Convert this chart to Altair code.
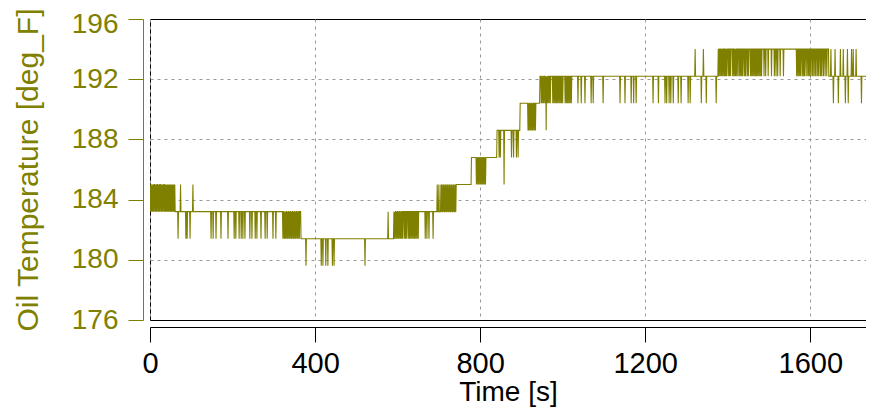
import altair as alt
import pandas as pd

# ---- data (time in s, temperature in deg_F) ----
# base level runs: start time and level held from that time on
run_start = [0, 62, 366, 591, 742, 779, 841, 897, 945, 1377, 1645]
run_level = [185.0, 183.2, 181.4, 183.2, 185.0, 186.8, 188.6, 190.4, 192.2, 194.0, 192.2]

# short excursions (one sample) away from the base level, grouped by level
spikes_179_6 = [378, 415, 419, 426, 431, 442, 446, 521]
spikes_181_4 = [68, 87, 90, 97, 148, 153, 160, 172, 189, 204, 208, 216, 221, 225,
                230, 242, 247, 255, 259, 269, 279, 284, 298, 305, 322, 325, 327,
                329, 332, 334, 337, 339, 342, 344, 347, 349, 352, 354, 357, 359,
                362, 592, 594, 597, 599, 602, 604, 607, 609, 612, 616, 619, 622,
                626, 629, 632, 635, 638, 641, 644, 647, 650, 667, 671, 676, 686]
spikes_183_2 = [1, 3, 5, 7, 9, 12, 14, 16, 19, 21, 23, 26, 28, 30, 32, 35, 37, 39,
                41, 43, 45, 47, 49, 51, 53, 55, 57, 59, 61, 577]
spikes_185_0 = [74, 104, 696, 700, 705, 707, 710, 712, 715, 717, 720, 722, 725,
                727, 730, 732, 735, 737, 740, 791, 793, 796, 798, 801, 803, 806,
                808, 811, 813, 858]
spikes_186_8 = [846, 849, 876, 881, 888, 892]
spikes_188_6 = [916, 918, 921, 923, 926, 928, 931, 934, 960]
spikes_190_4 = [948, 950, 953, 955, 958, 962, 964, 967, 970, 976, 979, 982, 985,
                988, 991, 994, 997, 1000, 1006, 1009, 1012, 1015, 1018, 1021,
                1037, 1045, 1054, 1069, 1074, 1098, 1139, 1151, 1166, 1172, 1178,
                1219, 1232, 1248, 1252, 1258, 1262, 1268, 1280, 1287, 1304, 1309,
                1336, 1348, 1372, 1656, 1668, 1685, 1692, 1724]
spikes_192_2 = [1378, 1381, 1384, 1386, 1389, 1392, 1395, 1397, 1401, 1404, 1407,
                1412, 1415, 1418, 1420, 1423, 1427, 1430, 1433, 1436, 1440, 1443,
                1447, 1450, 1455, 1458, 1461, 1464, 1467, 1470, 1473, 1476, 1479,
                1482, 1488, 1492, 1498, 1506, 1513, 1517, 1521, 1527, 1535, 1567,
                1570, 1573, 1576, 1580, 1583, 1586, 1590, 1594, 1597, 1600, 1604,
                1607, 1611, 1614, 1618, 1621, 1625, 1628, 1632, 1636, 1640]
spikes_194_0 = [1321, 1341, 1650, 1660, 1673, 1680, 1690, 1700, 1704, 1711]

t_end = 1735
x_ticks = [0, 400, 800, 1200, 1600]
y_ticks = [176, 180, 184, 188, 192, 196]

# ---- build the sampled series (1 s samples) ----
spike_map = {}
for lvl, lst in [(179.6, spikes_179_6), (181.4, spikes_181_4), (183.2, spikes_183_2),
                 (185.0, spikes_185_0), (186.8, spikes_186_8), (188.6, spikes_188_6),
                 (190.4, spikes_190_4), (192.2, spikes_192_2), (194.0, spikes_194_0)]:
    for s in lst:
        spike_map[s] = lvl

times, temps = [], []
ri = 0
for t in range(0, t_end + 1):
    while ri + 1 < len(run_start) and t >= run_start[ri + 1]:
        ri += 1
    times.append(t)
    temps.append(spike_map.get(t, run_level[ri]))

df = pd.DataFrame({"time": times, "temp": temps})

OLIVE = "#808000"
FONT = "Liberation Sans"

y_grid_opacity = {"condition": {"test": "datum.value == 176 || datum.value == 196",
                                "value": 0}, "value": 1}
y_label_offset = {"condition": {"test": "datum.value == 196", "value": 5}, "value": 0}

chart = alt.Chart(df).mark_line(color=OLIVE, strokeWidth=1.1, clip=True).encode(
    x=alt.X("time:Q",
            scale=alt.Scale(domain=[0, t_end], nice=False, zero=False),
            axis=alt.Axis(values=x_ticks, format="d", title="Time [s]", offset=7,
                          tickSize=15, labelPadding=7, labelFontSize=29, labelFont=FONT,
                          labelColor="black", tickColor="black", domainColor="black",
                          titleFont=FONT, titleFontSize=28, titleFontWeight="normal",
                          titleColor="black", titlePadding=0,
                          grid=True, gridColor="#999999", gridDash=[3, 4],
                          labelFlush=False, labelOverlap=False)),
    y=alt.Y("temp:Q",
            scale=alt.Scale(domain=[176, 196], nice=False, zero=False),
            axis=alt.Axis(values=y_ticks, format="d", title="Oil Temperature [deg_F]",
                          offset=7, tickSize=15, labelPadding=10, labelFontSize=28,
                          labelFont=FONT, labelColor=OLIVE, tickColor=OLIVE,
                          domainColor=OLIVE, titleFont=FONT, titleFontSize=30,
                          titleFontWeight="normal", titleColor=OLIVE, titlePadding=28,
                          grid=True, gridColor="#999999", gridDash=[3, 4],
                          gridOpacity=y_grid_opacity, labelOffset=y_label_offset,
                          labelFlush=False, labelOverlap=False)),
).properties(
    width=716, height=301,
    autosize=alt.AutoSizeParams(type="none"),
    padding={"left": 142, "top": 11, "right": 0, "bottom": 87},
    background="white",
).configure_view(stroke="black", strokeWidth=1)

chart.save("out.html", embed_options={"renderer": "svg", "actions": False})
